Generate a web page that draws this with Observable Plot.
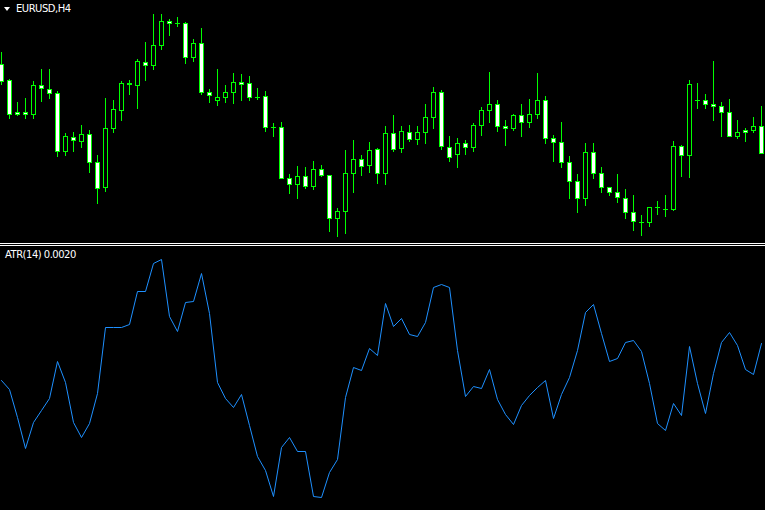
<!DOCTYPE html>
<html>
<head>
<meta charset="utf-8">
<script src="https://cdn.jsdelivr.net/npm/d3@7"></script>
<script src="https://cdn.jsdelivr.net/npm/@observablehq/plot@0.6"></script>
<style>
  html, body { margin: 0; padding: 0; background: #000; overflow: hidden; }
  #wrap { position: relative; width: 765px; height: 510px; background: #000; overflow: hidden; }
  #pricePane, #atrPane { position: absolute; left: 0; }
  #pricePane { top: 0; }
  #atrPane { top: 246px; }
  .sep { position: absolute; left: 0; width: 765px; height: 1px; background: #fff; }
  .lbl { position: absolute; font-family: "DejaVu Sans", sans-serif; font-size: 10px; line-height: 10px;
         color: #fff; white-space: pre; letter-spacing: -0.5px; }
  .tri { position: absolute; left: 4px; top: 7px; width: 0; height: 0;
         border-left: 3px solid transparent; border-right: 3px solid transparent; border-top: 4px solid #fff; }
</style>
</head>
<body>
<div id="wrap">
  <div id="pricePane"></div>
  <div class="sep" style="top:243px"></div>
  <div class="sep" style="top:245px"></div>
  <div id="atrPane"></div>
  <div class="tri"></div>
  <div class="lbl" style="left:16px; top:3.5px">EURUSD,H4</div>
  <div class="lbl" style="left:5px; top:249.5px">ATR(14) 0.0020</div>
</div>
<script>
// EURUSD H4 bars (oldest -> newest)
const open = [1.1236,1.1220,1.1188,1.1188,1.1186,1.1215,1.1211,1.1207,1.1149,1.1163,
  1.1159,1.1166,1.1138,1.1113,1.1172,1.1190,1.1216,1.1215,1.1238,1.1235,
  1.1255,1.1279,1.1277,1.1277,1.1243,1.1257,1.1208,1.1200,1.1203,1.1208,
  1.1218,1.1217,1.1203,1.1204,1.1173,1.1173,1.1122,1.1116,1.1124,1.1114,
  1.1131,1.1125,1.1082,1.1089,1.1127,1.1141,1.1135,1.1151,1.1127,1.1167,
  1.1152,1.1168,1.1161,1.1168,1.1183,1.1208,1.1153,1.1146,1.1157,1.1153,
  1.1175,1.1190,1.1196,1.1174,1.1172,1.1185,1.1178,1.1186,1.1200,1.1162,
  1.1158,1.1138,1.1119,1.1102,1.1148,1.1127,1.1113,1.1108,1.1102,1.1088,
  1.1078,1.1078,1.1093,1.1091,1.1091,1.1154,1.1145,1.1200,1.1200,1.1196,
  1.1194,1.1188,1.1164,1.1170,1.1170,1.1174];
const high = [1.1248,1.1221,1.1198,1.1202,1.1219,1.1231,1.1231,1.1209,1.1167,1.1168,
  1.1175,1.1170,1.1145,1.1202,1.1200,1.1219,1.1220,1.1241,1.1258,1.1286,
  1.1286,1.1281,1.1283,1.1278,1.1261,1.1272,1.1211,1.1231,1.1215,1.1227,
  1.1226,1.1224,1.1212,1.1209,1.1177,1.1178,1.1126,1.1134,1.1133,1.1139,
  1.1135,1.1125,1.1092,1.1150,1.1160,1.1145,1.1158,1.1152,1.1174,1.1185,
  1.1174,1.1175,1.1174,1.1196,1.1213,1.1210,1.1164,1.1162,1.1160,1.1177,
  1.1193,1.1228,1.1200,1.1180,1.1186,1.1196,1.1201,1.1227,1.1204,1.1165,
  1.1178,1.1144,1.1126,1.1157,1.1157,1.1133,1.1113,1.1126,1.1111,1.1105,
  1.1085,1.1093,1.1099,1.1105,1.1159,1.1155,1.1220,1.1217,1.1206,1.1239,
  1.1198,1.1201,1.1180,1.1172,1.1183,1.1194];
const low = [1.1215,1.1181,1.1184,1.1181,1.1181,1.1198,1.1201,1.1143,1.1144,1.1148,
  1.1152,1.1127,1.1096,1.1108,1.1167,1.1179,1.1205,1.1191,1.1219,1.1230,
  1.1250,1.1264,1.1273,1.1236,1.1238,1.1205,1.1197,1.1194,1.1197,1.1196,
  1.1199,1.1199,1.1200,1.1168,1.1163,1.1122,1.1106,1.1101,1.1111,1.1110,
  1.1123,1.1068,1.1063,1.1066,1.1107,1.1124,1.1127,1.1116,1.1115,1.1148,
  1.1147,1.1158,1.1155,1.1156,1.1171,1.1150,1.1138,1.1132,1.1145,1.1148,
  1.1164,1.1177,1.1168,1.1154,1.1169,1.1163,1.1172,1.1181,1.1156,1.1138,
  1.1132,1.1101,1.1087,1.1094,1.1121,1.1107,1.1104,1.1097,1.1081,1.1069,
  1.1064,1.1073,1.1085,1.1083,1.1089,1.1123,1.1122,1.1191,1.1191,1.1179,
  1.1163,1.1163,1.1161,1.1158,1.1167,1.1147];
const close = [1.1219,1.1186,1.1186,1.1186,1.1215,1.1212,1.1207,1.1149,1.1164,1.1160,
  1.1166,1.1138,1.1112,1.1172,1.1191,1.1217,1.1217,1.1239,1.1235,1.1255,
  1.1279,1.1277,1.1277,1.1243,1.1257,1.1208,1.1205,1.1203,1.1208,1.1218,
  1.1216,1.1203,1.1203,1.1173,1.1173,1.1122,1.1116,1.1124,1.1114,1.1131,
  1.1125,1.1082,1.1089,1.1127,1.1141,1.1134,1.1150,1.1127,1.1167,1.1151,
  1.1169,1.1161,1.1168,1.1183,1.1208,1.1154,1.1143,1.1157,1.1153,1.1175,
  1.1190,1.1196,1.1174,1.1172,1.1185,1.1178,1.1186,1.1200,1.1162,1.1158,
  1.1138,1.1119,1.1102,1.1148,1.1127,1.1113,1.1108,1.1103,1.1088,1.1079,
  1.1078,1.1093,1.1093,1.1091,1.1154,1.1145,1.1216,1.1200,1.1196,1.1194,
  1.1188,1.1164,1.1168,1.1168,1.1174,1.1147];
// ATR(14) values for the same bars
const atr = [0.001815,0.00177,0.00163,0.001475,0.001605,0.001665,0.001725,0.00191,0.001805,0.001605,
  0.00153,0.0016,0.00175,0.00208,0.00208,0.00208,0.002095,0.00226,0.00226,0.0024,
  0.00242,0.002135,0.00206,0.002205,0.00221,0.00235,0.00215,0.001805,0.001725,0.00168,
  0.001745,0.00159,0.001435,0.001365,0.001235,0.00148,0.00153,0.00146,0.00146,0.001235,
  0.00123,0.001355,0.00142,0.00173,0.00188,0.001865,0.001975,0.00194,0.0022,0.002085,
  0.002125,0.002045,0.002035,0.002105,0.00228,0.002295,0.00228,0.001965,0.001735,0.001785,
  0.001775,0.00187,0.00172,0.001645,0.001595,0.00169,0.00174,0.00178,0.001815,0.001625,
  0.001745,0.00183,0.001965,0.002155,0.002195,0.00205,0.00191,0.001925,0.002005,0.002015,
  0.00196,0.0018,0.0016,0.001565,0.0017,0.00164,0.001985,0.0018,0.00165,0.00185,
  0.002005,0.002055,0.00199,0.00187,0.001845,0.0020];

const bars = open.map((o, i) => ({i, open: o, high: high[i], low: low[i], close: close[i], atr: atr[i]}));
const bodies = bars.filter(d => d.open !== d.close);
const dojis = bars.filter(d => d.open === d.close);

const xScale = {domain: [-0.125, 95.5], axis: null};
const green = "#00ff00";

const priceChart = Plot.plot({
  width: 765, height: 243, margin: 0,
  style: {background: "#000", overflow: "hidden"},
  x: xScale,
  y: {domain: [1.1057, 1.1300], axis: null},
  marks: [
    Plot.ruleX(bars, {x: "i", y1: "low", y2: "high", stroke: green, strokeWidth: 1}),
    Plot.rect(bodies, {
      x1: d => d.i - 0.25, x2: d => d.i + 0.25,
      y1: "open", y2: "close",
      fill: d => d.close < d.open ? "#ffffff" : "#000000",
      stroke: green, strokeWidth: 1, dx: 0.5, dy: 0.5
    }),
    Plot.ruleY(dojis, {x1: d => d.i - 0.25, x2: d => d.i + 0.375, y: "open", stroke: green, strokeWidth: 1})
  ]
});
document.getElementById("pricePane").appendChild(priceChart);

const atrChart = Plot.plot({
  width: 765, height: 264, margin: 0,
  style: {background: "#000", overflow: "hidden"},
  x: xScale,
  y: {domain: [0.001165, 0.002485], axis: null},
  marks: [
    Plot.line(bars, {x: "i", y: "atr", stroke: "#1e90ff", strokeWidth: 1})
  ]
});
document.getElementById("atrPane").appendChild(atrChart);
</script>
</body>
</html>
